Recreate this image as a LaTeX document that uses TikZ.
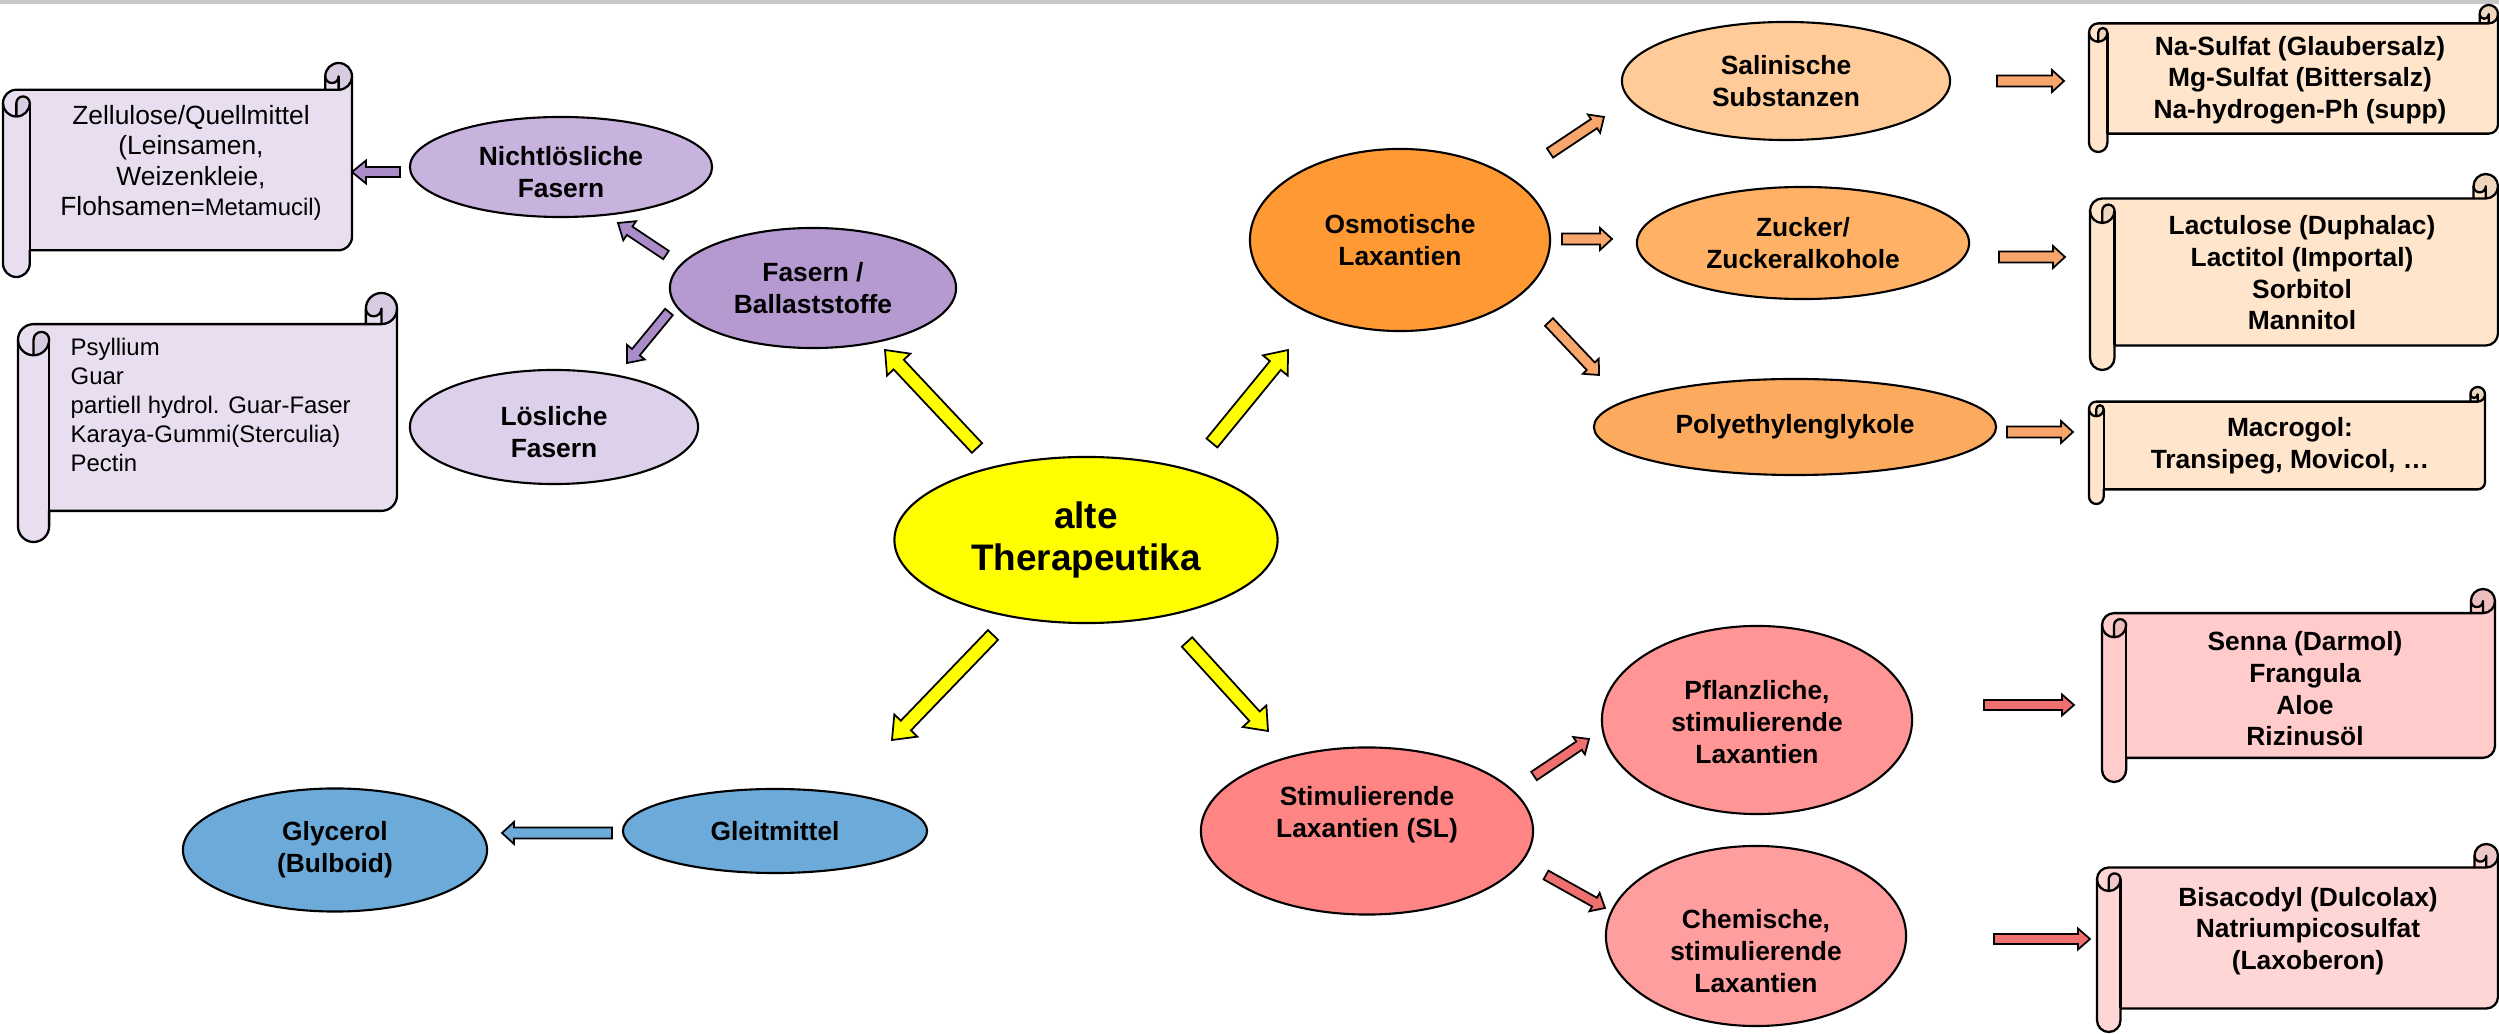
\documentclass[tikz,border=0pt]{standalone}
\usepackage{fontspec}
\setmainfont{Liberation Sans}
\usetikzlibrary{shapes.geometric,calc}

\definecolor{cGray}{HTML}{C8C8C8}
\definecolor{cYellow}{HTML}{FFFF00}
\definecolor{cPurD}{HTML}{B49AD0}
\definecolor{cPurM}{HTML}{C8B2DE}
\definecolor{cPurL}{HTML}{DCD0EA}
\definecolor{cPurS}{HTML}{E8DEF0}
\definecolor{cPurSD}{HTML}{D8CCE2}
\definecolor{cPurA}{HTML}{AA8CC8}
\definecolor{cOrange}{HTML}{FF9933}
\definecolor{cSalin}{HTML}{FFCC99}
\definecolor{cZucker}{HTML}{FFB266}
\definecolor{cPeg}{HTML}{FCAA5E}
\definecolor{cPeach}{HTML}{FFE5CC}
\definecolor{cPeachD}{HTML}{EED6BE}
\definecolor{cOrA}{HTML}{F9A66C}
\definecolor{cSL}{HTML}{FF8585}
\definecolor{cPfl}{HTML}{FF9595}
\definecolor{cChem}{HTML}{FF9E9E}
\definecolor{cPinkS}{HTML}{FFCBCB}
\definecolor{cPinkSD}{HTML}{EEBDBD}
\definecolor{cPinkT}{HTML}{FFD6D6}
\definecolor{cPinkTD}{HTML}{EEC8C8}
\definecolor{cRedA}{HTML}{F07070}
\definecolor{cBlue}{HTML}{6CAAD9}

\tikzset{
  ell/.style={ellipse, draw=black, line width=0.6pt, inner sep=0pt, align=center,
    font=\bfseries\fontsize{7.5}{9}\selectfont},
  stxt/.style={align=center, inner sep=0pt, font=\bfseries\fontsize{7.5}{9}\selectfont},
  barrow/.style={draw=black, line width=0.5pt, line join=miter},
  scrollline/.style={draw=black, line width=0.65pt, line join=round},
}

% block arrow: from, to, half shaft, half head, head length, fill
\newcommand{\blkarrow}[6]{%
  \coordinate (hb) at ($(#2)!#5!(#1)$);
  \draw[barrow, fill=#6] ($(#1)!#3!90:(#2)$) -- ($(hb)!#3!-90:(#1)$) -- ($(hb)!#4!-90:(#1)$)
    -- (#2) -- ($(hb)!#4!90:(#1)$) -- ($(hb)!#3!90:(#1)$) -- ($(#1)!#3!-90:(#2)$) -- cycle;
}

% horizontal scroll: l, t, r, b, light fill, dark fill (pixel units, y downward)
\newcommand{\scrollbox}[6]{%
  \pgfmathsetmacro{\sL}{#1}%
  \pgfmathsetmacro{\sT}{#2}%
  \pgfmathsetmacro{\sR}{#3}%
  \pgfmathsetmacro{\sB}{#4}%
  \pgfmathsetmacro{\sC}{0.125*min(\sR-\sL,\sB-\sT)}%
  \pgfmathsetmacro{\sH}{\sC/2}%
  \pgfmathsetmacro{\sQ}{\sC/4}%
  \fill[#5] (\sL,\sT+\sC+\sH) arc[start angle=180,delta angle=90,radius=\sH]
     -- (\sR-\sC,\sT+\sC) -- (\sR-\sC,\sT+\sH) arc[start angle=180,delta angle=180,radius=\sH]
     -- (\sR,\sB-\sC-\sH) arc[start angle=0,delta angle=90,radius=\sH]
     -- (\sL+\sC,\sB-\sC) -- (\sL+\sC,\sB-\sH) arc[start angle=0,delta angle=180,radius=\sH] -- cycle;
  \fill[#6] (\sL+\sH,\sT+2*\sC) arc[start angle=90,delta angle=-90,radius=\sH]
     arc[start angle=0,delta angle=-180,radius=\sQ] -- cycle;
  \fill[#6] (\sR-\sH,\sT+\sC) arc[start angle=90,delta angle=-270,radius=\sH]
     arc[start angle=180,delta angle=-180,radius=\sQ] -- cycle;
  \draw[scrollline] (\sL,\sT+\sC+\sH) arc[start angle=180,delta angle=90,radius=\sH]
     -- (\sR-\sC,\sT+\sC) -- (\sR-\sC,\sT+\sH) arc[start angle=180,delta angle=180,radius=\sH]
     -- (\sR,\sB-\sC-\sH) arc[start angle=0,delta angle=90,radius=\sH]
     -- (\sL+\sC,\sB-\sC) -- (\sL+\sC,\sB-\sH) arc[start angle=0,delta angle=180,radius=\sH] -- cycle;
  \draw[scrollline] (\sR-\sC,\sT+\sC) -- (\sR-\sH,\sT+\sC) arc[start angle=90,delta angle=-90,radius=\sH];
  \draw[scrollline] (\sR-\sH,\sT+\sC) -- (\sR-\sH,\sT+\sH) arc[start angle=0,delta angle=180,radius=\sQ];
  \draw[scrollline] (\sL+\sH,\sT+2*\sC) -- (\sL+\sH,\sT+\sC+\sH)
     arc[start angle=180,delta angle=180,radius=\sQ] arc[start angle=0,delta angle=180,radius=\sH];
  \draw[scrollline] (\sL+\sC,\sT+\sC+\sH) -- (\sL+\sC,\sB-\sC);
}

\begin{document}
\begin{tikzpicture}[x=0.01cm, y=-0.01cm]
\useasboundingbox (0,0) rectangle (2499,1034);
\fill[cGray] (0,0) rectangle (2499,4.5);

% ---------- scrolls ----------
\scrollbox{3}{63}{352}{277}{cPurS}{cPurSD}
\scrollbox{18}{293}{397}{542}{cPurS}{cPurSD}
\scrollbox{2089}{5}{2498}{152}{cPeach}{cPeachD}
\scrollbox{2090}{174}{2498}{370}{cPeach}{cPeachD}
\scrollbox{2089}{387}{2485}{504}{cPeach}{cPeachD}
\scrollbox{2102}{589}{2495}{782}{cPinkS}{cPinkSD}
\scrollbox{2097}{844}{2498}{1032}{cPinkT}{cPinkTD}

\node[align=center, inner sep=0pt, font=\fontsize{7.5}{8.6}\selectfont] (zell) at (191,163)
  {Zellulose/Quellmittel\\(Leinsamen,\\Weizenkleie,\\Flohsamen{\fontsize{6.8}{8.6}\selectfont=Metamucil)}};
\node[align=left, inner sep=0pt, anchor=west, font=\fontsize{6.8}{8.3}\selectfont] (psyl) at (70,405)
  {Psyllium\\Guar\\partiell hydrol. Guar-Faser\\Karaya-Gummi(Sterculia)\\Pectin};
\node[stxt, font=\bfseries\fontsize{7.5}{9}\selectfont] (nasulf) at (2300,80)
  {Na-Sulfat (Glaubersalz)\\Mg-Sulfat (Bittersalz)\\Na-hydrogen-Ph (supp)};
\node[stxt] (lact) at (2302,273) {Lactulose (Duphalac)\\Lactitol (Importal)\\Sorbitol\\Mannitol};
\node[stxt] (macro) at (2290,446) {Macrogol:\\Transipeg, Movicol, …};
\node[stxt] (senna) at (2305,689) {Senna (Darmol)\\Frangula\\Aloe\\Rizinusöl};
\node[stxt, font=\bfseries\fontsize{7.5}{8.9}\selectfont] (bisa) at (2308,931) {Bisacodyl (Dulcolax)\\Natriumpicosulfat\\(Laxoberon)};

% ---------- ellipses ----------
\node[ell, fill=cYellow, minimum width=3.83cm, minimum height=1.66cm,
  font=\bfseries\fontsize{10.5}{12.2}\selectfont] (cen) at (1086,540) {alte\\Therapeutika};
\node[ell, fill=cPurD, minimum width=2.86cm, minimum height=1.20cm] (fas) at (813,288) {Fasern /\\Ballaststoffe};
\node[ell, fill=cPurM, minimum width=3.02cm, minimum height=1.00cm] (nicht) at (561,167) {};
\node[stxt] (nichttxt) at (561,172) {Nichtlösliche\\Fasern};
\node[ell, fill=cPurL, minimum width=2.88cm, minimum height=1.14cm] (loes) at (554,427) {};
\node[stxt] (loestxt) at (554,432) {Lösliche\\Fasern};
\node[ell, fill=cOrange, minimum width=3.00cm, minimum height=1.82cm] (osm) at (1400,240) {Osmotische\\Laxantien};
\node[ell, fill=cSalin, minimum width=3.28cm, minimum height=1.18cm] (sal) at (1786,81) {Salinische\\Substanzen};
\node[ell, fill=cZucker, minimum width=3.32cm, minimum height=1.12cm] (zuc) at (1803,243) {Zucker/\\Zuckeralkohole};
\node[ell, fill=cPeg, minimum width=4.02cm, minimum height=0.96cm] (peg) at (1795,427) {Polyethylenglykole};
\node[ell, fill=cSL, minimum width=3.32cm, minimum height=1.67cm] (sl) at (1367,831) {};
\node[stxt] (sltxt) at (1367,815) {Stimulierende\\Laxantien (SL)};
\node[ell, fill=cPfl, minimum width=3.10cm, minimum height=1.88cm] (pfl) at (1757,720) {};
\node[stxt] (pfltxt) at (1757,722) {Pflanzliche,\\stimulierende\\Laxantien};
\node[ell, fill=cChem, minimum width=3.00cm, minimum height=1.80cm] (chem) at (1756,936) {};
\node[stxt] (chemtxt) at (1756,951) {Chemische,\\stimulierende\\Laxantien};
\node[ell, fill=cBlue, minimum width=3.04cm, minimum height=1.23cm] (gly) at (335,850) {Glycerol\\(Bulboid)};
\node[ell, fill=cBlue, minimum width=3.04cm, minimum height=0.84cm] (gleit) at (775,831) {Gleitmittel};

% ---------- arrow end points ----------
\coordinate (y1s) at (977,448);  \coordinate (y1e) at (885,350);
\coordinate (y2s) at (1212,443); \coordinate (y2e) at (1288,350);
\coordinate (y3s) at (993,635);  \coordinate (y3e) at (892,740);
\coordinate (y4s) at (1187,642); \coordinate (y4e) at (1268,731);
\coordinate (p1s) at (400,172);  \coordinate (p1e) at (352,172);
\coordinate (p2s) at (666,255);  \coordinate (p2e) at (618,223);
\coordinate (p3s) at (669,312);  \coordinate (p3e) at (627,363);
\coordinate (o1s) at (1550,153); \coordinate (o1e) at (1604,117);
\coordinate (o2s) at (1562,239); \coordinate (o2e) at (1612,239);
\coordinate (o3s) at (1549,322); \coordinate (o3e) at (1599,375);
\coordinate (o4s) at (1997,81);  \coordinate (o4e) at (2064,81);
\coordinate (o5s) at (1999,257); \coordinate (o5e) at (2065,257);
\coordinate (o6s) at (2007,432); \coordinate (o6e) at (2073,432);
\coordinate (r1s) at (1534,776); \coordinate (r1e) at (1589,739);
\coordinate (r2s) at (1546,875); \coordinate (r2e) at (1605,908);
\coordinate (r3s) at (1984,705); \coordinate (r3e) at (2074,705);
\coordinate (r4s) at (1994,939); \coordinate (r4e) at (2090,939);
\coordinate (b1s) at (612,833);  \coordinate (b1e) at (502,833);

% ---------- block arrows ----------
\blkarrow{y1s}{y1e}{0.07cm}{0.16cm}{0.2cm}{cYellow}
\blkarrow{y2s}{y2e}{0.07cm}{0.16cm}{0.2cm}{cYellow}
\blkarrow{y3s}{y3e}{0.07cm}{0.16cm}{0.2cm}{cYellow}
\blkarrow{y4s}{y4e}{0.07cm}{0.16cm}{0.2cm}{cYellow}
\blkarrow{p1s}{p1e}{0.05cm}{0.115cm}{0.14cm}{cPurA}
\blkarrow{p2s}{p2e}{0.05cm}{0.115cm}{0.14cm}{cPurA}
\blkarrow{p3s}{p3e}{0.05cm}{0.115cm}{0.14cm}{cPurA}
\blkarrow{o1s}{o1e}{0.055cm}{0.11cm}{0.12cm}{cOrA}
\blkarrow{o2s}{o2e}{0.055cm}{0.11cm}{0.12cm}{cOrA}
\blkarrow{o3s}{o3e}{0.055cm}{0.11cm}{0.12cm}{cOrA}
\blkarrow{o4s}{o4e}{0.055cm}{0.11cm}{0.12cm}{cOrA}
\blkarrow{o5s}{o5e}{0.055cm}{0.11cm}{0.12cm}{cOrA}
\blkarrow{o6s}{o6e}{0.055cm}{0.11cm}{0.12cm}{cOrA}
\blkarrow{r1s}{r1e}{0.05cm}{0.105cm}{0.12cm}{cRedA}
\blkarrow{r2s}{r2e}{0.05cm}{0.105cm}{0.12cm}{cRedA}
\blkarrow{r3s}{r3e}{0.05cm}{0.105cm}{0.12cm}{cRedA}
\blkarrow{r4s}{r4e}{0.05cm}{0.105cm}{0.12cm}{cRedA}
\blkarrow{b1s}{b1e}{0.055cm}{0.11cm}{0.12cm}{cBlue}
\end{tikzpicture}
\end{document}
